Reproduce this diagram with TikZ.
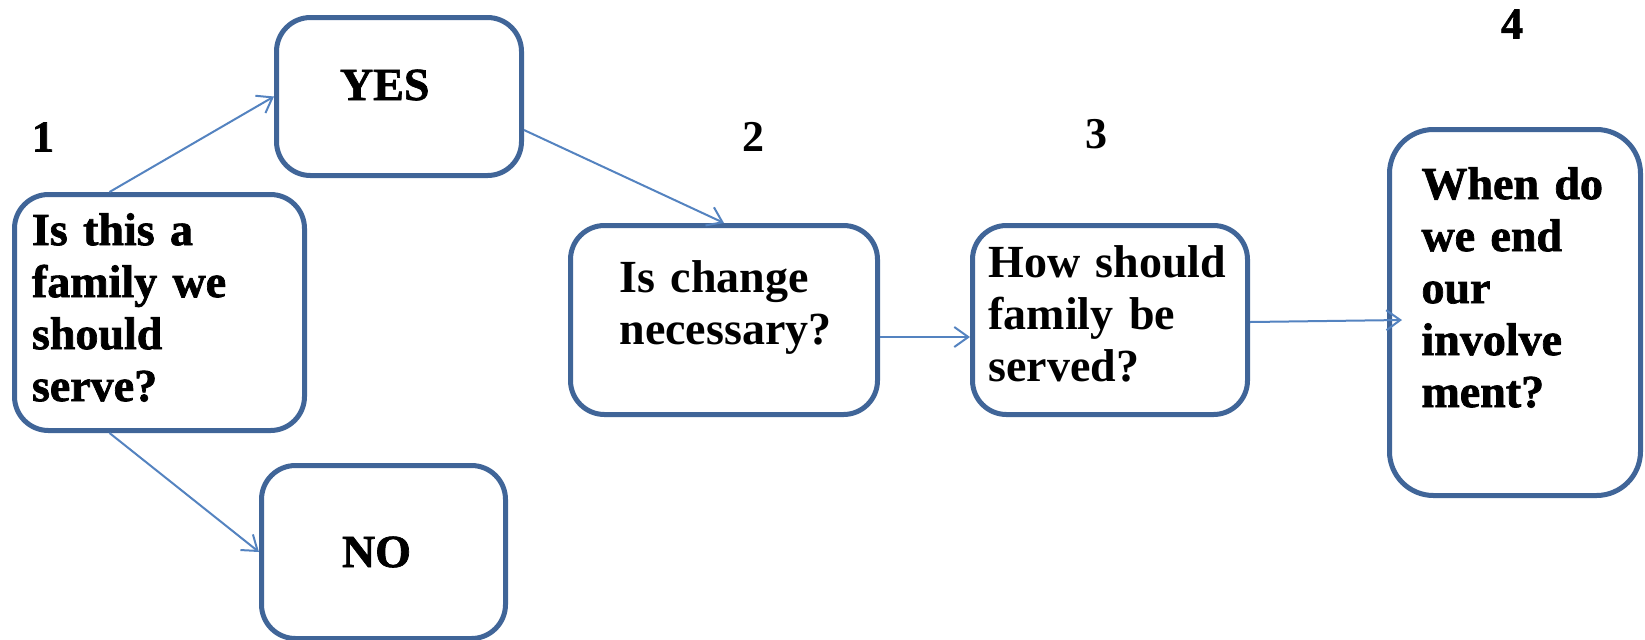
\documentclass[tikz,border=0pt]{standalone}
\usepackage{fontspec}
\setmainfont{Liberation Serif}
\newfontface\heavyfont{Liberation Serif Bold}[FakeBold=1.5]
\usetikzlibrary{arrows.meta}

\definecolor{boxblue}{RGB}{64,101,152}
\definecolor{arrowblue}{RGB}{84,131,192}

\begin{document}
\begin{tikzpicture}[x=0.5pt,y=-0.5pt,->,>={Straight Barb[length=7pt,width=10pt]},
  every edge/.style={draw=arrowblue,line width=1pt}]
  \tikzstyle{box}=[draw=boxblue,line width=2.5pt,rounded corners=17pt,fill=white,
    align=left,inner ysep=2pt,font=\fontsize{23pt}{26pt}\selectfont\bfseries]
  \tikzstyle{heavy}=[font=\heavyfont\fontsize{23pt}{26pt}\selectfont]
  \tikzstyle{num}=[font=\fontsize{22pt}{22pt}\selectfont\bfseries]
  \useasboundingbox (0,0) rectangle (1645,639);

  % question boxes
  \node[box,heavy,text width=127.5pt,inner xsep=8.75pt,minimum height=118pt] (Q1) at (159.5,312.5)
    {Is this a\\ family we\\ should\\ serve?\par\kern5pt};
  \node[box,heavy,text width=59pt,inner xsep=31.75pt,minimum height=79pt] (Yes) at (399,96.5)
    {YES\par\kern11.5pt};
  \node[box,heavy,text width=41.5pt,inner xsep=40.25pt,minimum height=86.5pt] (No) at (383.5,552)
    {NO};
  \node[box,text width=115.5pt,inner xsep=19pt,minimum height=94.5pt] (Q2) at (724,320)
    {\hspace*{5.5pt}Is change\\ \hspace*{5.5pt}necessary?\par\kern13pt};
  \node[box,text width=129.5pt,inner xsep=4pt,minimum height=94.5pt] (Q3) at (1110,320)
    {\hspace*{4pt}How should\\ \hspace*{4pt}family be\\ \hspace*{4pt}served?\par\kern6.5pt};
  \node[box,heavy,rounded corners=22pt,text width=103.5pt,inner xsep=11pt,minimum height=183pt] (Q4) at (1515,312.5)
    {\hspace*{5pt}When do\\ \hspace*{5pt}we end\\ \hspace*{5pt}our\\ \hspace*{5pt}involve\\ \hspace*{5pt}ment?\par\kern25pt};

  % step numbers
  \node[num,font=\heavyfont\fontsize{22pt}{22pt}\selectfont] (N1) at (43,137) {1};
  \node[num] (N2) at (753,137) {2};
  \node[num] (N3) at (1096,134) {3};
  \node[num,font=\heavyfont\fontsize{22pt}{22pt}\selectfont] (N4) at (1512,24) {4};

  \path ([xshift=-25pt]Q1.north) edge (Yes.west)
        ([xshift=-25pt]Q1.south) edge (No.west)
        ([yshift=-16.75pt]Yes.east) edge (Q2.north)
        ([yshift=-8.5pt]Q2.east) edge ([yshift=-8.5pt]Q3.west)
        ([yshift=-1pt]Q3.east) edge ([xshift=7.5pt,yshift=-3.75pt]Q4.west);
\end{tikzpicture}
\end{document}
